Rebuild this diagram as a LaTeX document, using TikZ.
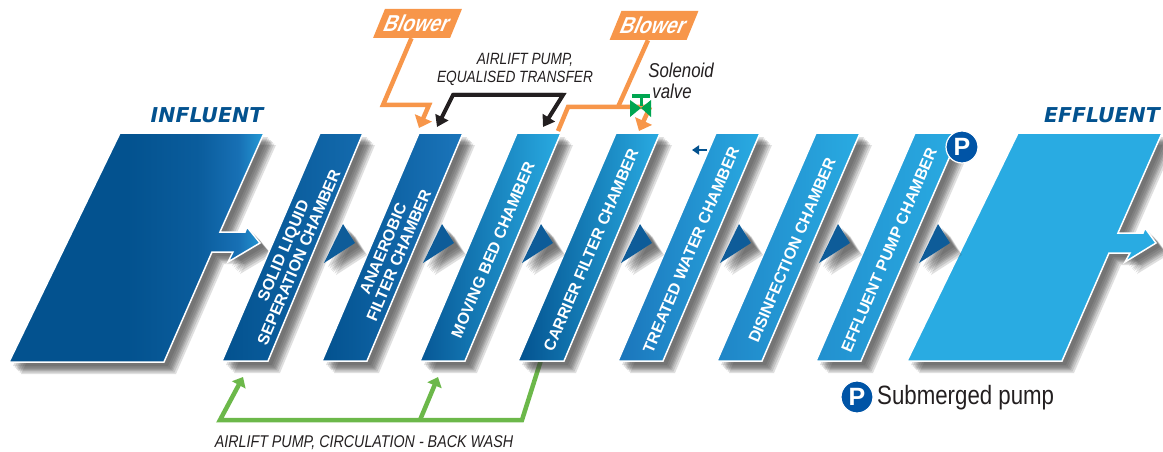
\documentclass[tikz,border=0pt]{standalone}
\usepackage{fontspec}
\setmainfont{Liberation Sans}
\newfontfamily\narrowfont[FakeStretch=.84]{Liberation Sans}
\newfontfamily\headfont{DejaVu Sans}
\usetikzlibrary{arrows.meta}
\definecolor{deepblue}{HTML}{03528F}
\definecolor{midblue}{HTML}{1B75BB}
\definecolor{skyblue}{HTML}{29ABE2}
\definecolor{pumpblue}{HTML}{0054A6}
\definecolor{pointerblue}{HTML}{0E5C99}
\definecolor{airorange}{HTML}{F7964A}
\definecolor{washgreen}{HTML}{6CB84A}
\definecolor{valvegreen}{HTML}{00A651}
\definecolor{inkblack}{HTML}{231F20}
\definecolor{shadowgray}{HTML}{404040}
\pgfdeclarehorizontalshading{influentfill}{100bp}{color(0bp)=(deepblue); color(25bp)=(deepblue); color(48bp)=(deepblue); color(62bp)=(midblue!30!deepblue); color(70bp)=(midblue!85!deepblue); color(75bp)=(skyblue!70!midblue); color(100bp)=(skyblue)}
\tikzset{shadowcopy/.style={preaction={fill=shadowgray,fill opacity=.17,transform canvas={shift={(#1pt,-#1pt)}}}}}
\tikzstyle{softshadow}=[shadowcopy=4,shadowcopy=5.5,shadowcopy=7,shadowcopy=8,shadowcopy=9,shadowcopy=10.5,shadowcopy=12]
\tikzstyle{tank}=[softshadow,draw=white,line width=1.5pt]
\tikzstyle{pointer}=[softshadow,fill=pointerblue]
\tikzstyle{chamberlabel}=[text=white,font=\fontsize{16}{17}\selectfont\bfseries,rotate=66.9,align=center,inner sep=0pt]
\tikzstyle{headlabel}=[text=deepblue,font=\fontsize{20.5}{21}\headfont\bfseries\itshape,inner sep=0pt]
\tikzstyle{blowerbox}=[fill=airorange,text=white,font=\fontsize{23}{24}\narrowfont\bfseries,xslant=.41,transform shape,minimum width=77pt,minimum height=29pt,inner sep=0pt]
\tikzstyle{airline}=[draw=airorange,line width=4.5pt,-{Triangle[width=18pt,length=11pt]}]
\tikzstyle{transferline}=[draw=inkblack,line width=4pt,-{Triangle[width=14pt,length=11pt]}]
\tikzstyle{washline}=[draw=washgreen,line width=4.5pt,-{Triangle[width=15pt,length=9pt]}]
\tikzstyle{note}=[text=inkblack,font=\narrowfont\itshape,inner sep=0pt,align=center]
\tikzstyle{pumpmark}=[circle,fill=pumpblue,draw=white,line width=1.2pt,minimum size=32pt,inner sep=0pt,text=white,font=\fontsize{25}{25}\selectfont\bfseries]

\begin{document}
\begin{tikzpicture}[x=1pt,y=-1pt]
	\useasboundingbox (0,0) rectangle (1163,452);
	% wash line runs under the tanks
	\coordinate (washfoot) at (541,360);
	\coordinate (washright) at (522,420);
	\coordinate (washmid) at (420,420);
	\coordinate (washleft) at (220,420);
	\coordinate (washtipa) at (243,377);
	\coordinate (washtipb) at (438,377);
	\draw[washline] (washfoot) -- (washright) -- (washleft) -- (washtipa);
	\draw[washline] (washmid) -- (washtipb);
	% tanks
	\path[tank,shading=influentfill] (120,133) -- (264,133) -- (220,232) -- (245,232) -- (247,227) -- (260,243) -- (228,262) -- (233,252) -- (212,252) -- (164,362) -- (9,362) -- cycle;
	\path[tank,left color=deepblue,right color=midblue!70!deepblue] (320,133) -- (363,133) -- (268,361) -- (222,361) -- cycle;
	\path[tank,left color=deepblue,right color=midblue] (419,133) -- (463,133) -- (367,361) -- (322,361) -- cycle;
	\path[tank,left color=deepblue!85!midblue,middle color=midblue,right color=skyblue] (517,133) -- (561,133) -- (465,361) -- (420,361) -- cycle;
	\path[tank,left color=deepblue,middle color=midblue,right color=skyblue] (616,133) -- (660,133) -- (564,361) -- (518,361) -- cycle;
	\path[tank,left color=midblue,middle color=skyblue,right color=skyblue] (716,133) -- (760,133) -- (663,361) -- (618,361) -- cycle;
	\path[tank,left color=midblue!70!skyblue,middle color=skyblue,right color=skyblue] (816,133) -- (860,133) -- (762,361) -- (717,361) -- cycle;
	\path[tank,left color=midblue!50!skyblue,middle color=skyblue,right color=skyblue] (915,133) -- (960,133) -- (861,361) -- (816,361) -- cycle;
	\path[tank,fill=skyblue] (1018,133) -- (1162,133) -- (1118,233) -- (1143,233) -- (1145,228) -- (1156,243) -- (1125,262) -- (1130,253) -- (1109,253) -- (1062,361) -- (907,361) -- cycle;
	% pointers between tanks
	\path[pointer] (343,224) -- (355,243) -- (324,263) -- cycle;
	\path[pointer] (442,224) -- (454,243) -- (423,263) -- cycle;
	\path[pointer] (541,224) -- (553,243) -- (522,263) -- cycle;
	\path[pointer] (640,224) -- (652,243) -- (621,263) -- cycle;
	\path[pointer] (739,224) -- (751,243) -- (720,263) -- cycle;
	\path[pointer] (838,224) -- (850,243) -- (819,263) -- cycle;
	\path[pointer] (938,224) -- (950,243) -- (919,263) -- cycle;
	% labels
	\node[headlabel] (influent) at (207,115) {INFLUENT};
	\node[headlabel] (effluent) at (1102,115) {EFFLUENT};
	\node[chamberlabel] (solid) at (291,254) {SOLID LIQUID\\SEPERATION CHAMBER};
	\node[chamberlabel] (anaerobic) at (391,252) {ANAEROBIC\\FILTER CHAMBER};
	\node[chamberlabel] (moving) at (493,250) {MOVING BED CHAMBER};
	\node[chamberlabel] (carrier) at (591,250) {CARRIER FILTER CHAMBER};
	\node[chamberlabel] (treated) at (691,250) {TREATED WATER CHAMBER};
	\node[chamberlabel] (disinfection) at (792,250) {DISINFECTION CHAMBER};
	\node[chamberlabel] (pumpchamber) at (889,250) {EFFLUENT PUMP CHAMBER};
	% air lines
	\node[blowerbox] (blowera) at (417.5,23.5) {Blower};
	\node[blowerbox] (blowerb) at (654,25.5) {Blower};
	\coordinate (bendaa) at (383,105);
	\coordinate (bendab) at (429,105);
	\coordinate (tipa) at (419,128);
	\draw[airline] (blowera.south) -- (bendaa) -- (bendab) -- (tipa);
	\coordinate (bendba) at (618,107);
	\coordinate (bendbb) at (568,107);
	\coordinate (bendbc) at (650,107);
	\coordinate (footb) at (558,131);
	\coordinate (tipb) at (639,131);
	\draw[draw=airorange,line width=4.5pt] (blowerb.south) -- (bendba);
	\draw[draw=airorange,line width=4.5pt] (footb) -- (bendbb) -- (bendbc);
	\draw[airline] (bendbc) -- (tipb);
	% transfer line
	\coordinate (transferleft) at (453,95);
	\coordinate (transferright) at (563,95);
	\coordinate (transfertipa) at (437,127);
	\coordinate (transfertipb) at (543,127);
	\draw[transferline] (transferright) -- (transferleft) -- (transfertipa);
	\draw[transferline] (transferleft) -- (transferright) -- (transfertipb);
	% valve
	\fill[valvegreen] (632,94) rectangle (650,98);
	\fill[valvegreen] (639.5,96) rectangle (642.5,106);
	\fill[valvegreen] (630,100) -- (641,108) -- (630,117) -- cycle;
	\fill[valvegreen] (651,100) -- (641,108) -- (651,117) -- cycle;
	% notes
	\node[note,font=\fontsize{16.3}{18}\narrowfont\itshape] (transfernote) at (515,69) {\hspace*{20pt}AIRLIFT PUMP,\\EQUALISED TRANSFER};
	\node[note,font=\fontsize{20}{21}\narrowfont\itshape] (solenoid) at (672,81) {\hspace*{18pt}Solenoid\\valve};
	\node[note,font=\fontsize{17}{18}\narrowfont\itshape] (washnote) at (364,443) {AIRLIFT PUMP, CIRCULATION - BACK WASH};
	% back flow mark
	\coordinate (backfrom) at (707,150);
	\coordinate (backto) at (692,150);
	\draw[draw=deepblue,line width=2.5pt,-{Triangle[width=9pt,length=7pt]}] (backfrom) -- (backto);
	% pump marks
	\node[pumpmark] (pumpa) at (962,147) {P};
	\node[pumpmark] (pumpb) at (857,397) {P};
	\node[note,anchor=west,font=\fontsize{26.5}{26.5}\narrowfont] (pumpnote) at (877,398) {Submerged pump};
\end{tikzpicture}
\end{document}
